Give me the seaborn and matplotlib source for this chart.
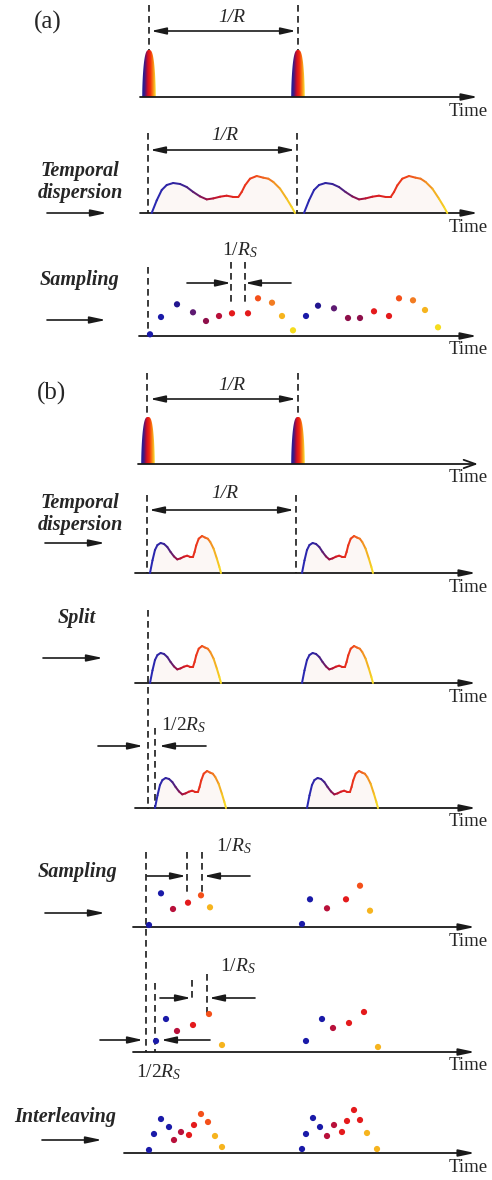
import numpy as np
import pandas as pd
import matplotlib
matplotlib.use("Agg")
import matplotlib.pyplot as plt
import seaborn as sns
from matplotlib.collections import LineCollection
from matplotlib.colors import LinearSegmentedColormap
from matplotlib.patches import Polygon

# ------------------------------------------------------------------ data
# dispersed pulse shape: normalised time within the pulse, amplitude (px)
wave_t = [0, 0.035, 0.07, 0.105, 0.15, 0.198, 0.244, 0.29, 0.337, 0.384, 0.43,
          0.477, 0.523, 0.57, 0.605, 0.628, 0.651, 0.686, 0.733, 0.779, 0.814,
          0.849, 0.896, 0.942, 0.977, 1.0]
wave_a = [0, 12.6, 23, 28, 30, 29, 26, 21, 16.6, 13.6, 14.6, 16.3, 17.3, 16,
          16, 21, 27.6, 34.3, 37, 35.3, 34.3, 31, 24.3, 14.3, 6, 0]

# short optical pulses (time positions) and their height
pulse_times_a = [149, 298]
pulse_times_b = [148, 298]
pulse_amp = 47

# start times of the dispersed pulses and their durations
wave_starts_a2 = [151.7, 304]
wave_width_a = 143.3
wave_starts_b2 = [150, 302]
wave_starts_b3 = [150, 302]
wave_starts_b4 = [155, 307]
wave_width_b = 71

# sampled points: time, amplitude, colour class
samp_a3_t = [150, 161, 177, 193, 206, 219, 232, 248, 258, 272, 282, 293,
             306, 318, 334, 348, 360, 374, 389, 399, 413, 425, 438]
samp_a3_v = [1.7, 19, 31.7, 23.7, 15, 20, 22.7, 22.7, 37.7, 33.3, 20, 5.7,
             20, 30.3, 27.7, 18, 18, 24.7, 20, 37.7, 35.7, 26, 8.7]
samp_a3_c = ["blue", "blue", "navy", "purple", "maroon", "crimson", "red", "red",
             "orangered", "orange", "amber", "yellow",
             "blue", "navy", "purple", "maroon", "maroon", "red", "red",
             "orangered", "orange", "amber", "yellow"]

samp_b5_t = [149, 161, 173, 188, 201, 210, 302, 310, 327, 346, 360, 370]
samp_b5_v = [2, 33.7, 18, 24.3, 31.7, 19.7, 3, 27.7, 18.7, 27.7, 41.3, 16.3]
samp_b5_c = ["blue", "blue", "crimson", "red", "orangered", "amber",
             "blue", "blue", "crimson", "red", "orangered", "amber"]

samp_b6_t = [156, 166, 177, 193, 209, 222, 306, 322, 333, 349, 364, 378]
samp_b6_v = [11, 33, 21, 27, 38, 7, 11, 33, 24, 29, 40, 5]
samp_b6_c = ["blue", "blue", "crimson", "red", "orangered", "amber",
             "blue", "blue", "crimson", "red", "red", "amber"]

samp_b7_t = [149, 154, 161, 169, 174, 181, 189, 194, 201, 208, 215, 222,
             302, 306, 313, 320, 327, 334, 342, 347, 354, 360, 367, 377]
samp_b7_v = [3, 19, 34, 26, 13, 21, 18, 28, 39, 31, 17, 6,
             4, 19, 35, 26, 17, 28, 21, 32, 43, 33, 20, 4]
samp_b7_c = ["blue", "blue", "blue", "blue", "crimson", "crimson", "red", "red",
             "orangered", "orangered", "amber", "amber",
             "blue", "blue", "blue", "blue", "crimson", "crimson", "red", "red",
             "red", "red", "amber", "amber"]

stage_labels = ["Temporal\ndispersion", "Sampling", "Temporal\ndispersion",
                "Split", "Sampling", "Interleaving"]

# ------------------------------------------------------------------ style
sns.set_theme(style="white")
plt.rcParams["font.family"] = ["Liberation Serif", "DejaVu Serif"]
plt.rcParams["mathtext.fontset"] = "custom"
plt.rcParams["mathtext.it"] = "Liberation Serif:italic"
plt.rcParams["mathtext.rm"] = "Liberation Serif"

dot_palette = {"blue": "#1a1aa8", "navy": "#22168f", "purple": "#5e1a72",
               "maroon": "#8e0f4a", "crimson": "#b8103a", "red": "#e41a1c",
               "orangered": "#f4501a", "orange": "#f27c22", "amber": "#f6b41e",
               "yellow": "#f5dc1e"}

wave_cmap = LinearSegmentedColormap.from_list(
    "wave", [(0, "#2828b4"), (0.2, "#33239c"), (0.3, "#5a1f74"),
             (0.38, "#951048"), (0.5, "#d81a22"), (0.7, "#ef3c1a"),
             (0.82, "#f07420"), (0.92, "#f3b022"), (1, "#f6dc24")])
pulse_cmap = LinearSegmentedColormap.from_list(
    "pulse", [(0, "#1c1c96"), (0.18, "#3a1a8a"), (0.3, "#8a1050"),
              (0.42, "#d81020"), (0.6, "#f02a10"), (0.75, "#f87010"),
              (0.88, "#f8b020"), (1, "#f8e438")])

fig = plt.figure(figsize=(4.92, 11.8), dpi=100)
ax = fig.add_axes([0, 0, 1, 1])
ax.axis("off")

LW = 1.2
DASH = (0, (4, 2.6))


def time_axis(y, x0, x1=478, open_head=False):
    style = "-|>,head_length=0.8,head_width=0.17"
    if open_head:
        style = "->,head_length=0.7,head_width=0.25"
    ax.annotate("", xy=(x1, y), xytext=(x0, y),
                arrowprops=dict(arrowstyle=style, lw=1.3, color="k",
                                shrinkA=0, shrinkB=0))
    ax.text(488, y + 14, "Time", ha="right", va="center", fontsize=13.5)


def dashed(x, y0, y1):
    ax.plot([x, x], [y0, y1], color="k", lw=LW, ls=DASH, solid_capstyle="butt")


def arrow(x_from, x_to, y, both=False):
    style = "<|-|>" if both else "-|>"
    ax.annotate("", xy=(x_to, y), xytext=(x_from, y),
                arrowprops=dict(arrowstyle=style + ",head_length=0.75,head_width=0.17",
                                lw=LW, color="k", shrinkA=0, shrinkB=0))


def pulse(c, base, h, hw=6.8):
    u = np.linspace(-1, 1, 121)
    xs = c + u * hw
    ys = base - h * np.clip(1 - np.abs(u) ** 3, 0, 1) ** 0.6
    patch = Polygon(np.column_stack([xs, ys]), closed=True, facecolor="none",
                    edgecolor="none")
    ax.add_patch(patch)
    grad = np.linspace(0, 1, 64).reshape(1, -1)
    im = ax.imshow(grad, cmap=pulse_cmap, extent=(c - hw, c + hw, base, base - h),
                   aspect="auto", interpolation="bilinear", zorder=2)
    im.set_clip_path(patch)


def wave(start, width, base):
    t = np.asarray(wave_t)
    x = start + t * width
    y = base - np.asarray(wave_a)
    ax.fill_between(x, base, y, color="#fcf7f5", lw=0, zorder=1)
    pts = np.column_stack([x, y])
    segs = np.stack([pts[:-1], pts[1:]], axis=1)
    tm = (t[:-1] + t[1:]) / 2
    lc = LineCollection(segs, colors=wave_cmap(tm), linewidths=1.45,
                        capstyle="round", zorder=3)
    ax.add_collection(lc)


def samples(ts, vs, cs, base):
    df = pd.DataFrame({"t": ts, "y": base - np.asarray(vs, float), "c": cs})
    sns.scatterplot(data=df, x="t", y="y", hue="c", palette=dot_palette,
                    s=20, edgecolor="none", legend=False, ax=ax, zorder=4)


def stage(text, x, y, ay, ax0, ax1):
    ax.text(x, y, text, ha="center", va="center", fontsize=14.5,
            fontweight="bold", fontstyle="italic", linespacing=1.15)
    ax.annotate("", xy=(ax1, ay), xytext=(ax0, ay),
                arrowprops=dict(arrowstyle="-|>,head_length=0.8,head_width=0.17",
                                lw=LW, color="k", shrinkA=0, shrinkB=0))


def label(x, y, s, ha="center"):
    ax.text(x, y, s, ha=ha, va="center", fontsize=14, fontstyle="italic")


RS = r"$\mathit{1/R_S}$"
R2S = r"$\mathit{1/2R_S}$"

# ------------------------------------------------------------------ panel (a)
ax.text(48, 22, "(a)", ha="center", va="center", fontsize=18)

# row a1 : pulse train
b = 97
time_axis(b, 140)
for tp in pulse_times_a:
    pulse(tp, b, pulse_amp)
dashed(149, 5, 50)
dashed(298, 5, 50)
arrow(151, 296, 31, both=True)
label(232, 17, "1/R")

# row a2 : temporal dispersion
b = 213
time_axis(b, 140)
for s0 in wave_starts_a2:
    wave(s0, wave_width_a, b)
dashed(148, 133, b)
dashed(297, 133, b)
arrow(150, 295, 150, both=True)
label(225, 135, "1/R")
stage(stage_labels[0], 80, 182, 213, 47, 107)

# row a3 : sampling
b = 336
time_axis(b, 139, 477)
samples(samp_a3_t, samp_a3_v, samp_a3_c, b)
dashed(148, 267, b)
dashed(231, 262, 303)
dashed(245, 262, 303)
arrow(187, 231, 283)
arrow(291, 245, 283)
label(240, 250, RS)
stage(stage_labels[1], 80, 280, 320, 47, 106)

# ------------------------------------------------------------------ panel (b)
ax.text(51, 393, "(b)", ha="center", va="center", fontsize=18)

# row b1 : pulse train
b = 464
time_axis(b, 138, open_head=True)
for tp in pulse_times_b:
    pulse(tp, b, pulse_amp)
dashed(147, 373, 417)
dashed(298, 373, 417)
arrow(150, 296, 399, both=True)
label(232, 386, "1/R")

# row b2 : temporal dispersion
b = 573
time_axis(b, 135, 476)
for s0 in wave_starts_b2:
    wave(s0, wave_width_b, b)
dashed(147, 495, b)
dashed(296, 495, b)
arrow(149, 294, 510, both=True)
label(225, 494, "1/R")
stage(stage_labels[2], 80, 514, 543, 45, 105)

# row b3 : split
b = 683
time_axis(b, 135, 476)
for s0 in wave_starts_b3:
    wave(s0, wave_width_b, b)
dashed(148, 610, 809)
stage(stage_labels[3], 77, 618, 658, 43, 103)

# row b4 : delayed copy
b = 808
time_axis(b, 135, 476)
for s0 in wave_starts_b4:
    wave(s0, wave_width_b, b)
dashed(155, 728, 809)
arrow(98, 143, 746)
arrow(206, 159, 746)
label(161, 725, R2S, ha="left")

# row b5 : sampling of branch 1
b = 927
time_axis(b, 133, 475)
samples(samp_b5_t, samp_b5_v, samp_b5_c, b)
dashed(146, 852, 1052)
dashed(187, 852, 892)
dashed(202, 852, 892)
arrow(147, 186, 876)
arrow(250, 204, 876)
label(234, 846, RS)
stage(stage_labels[4], 78, 872, 913, 45, 105)

# row b6 : sampling of branch 2
b = 1052
time_axis(b, 133, 475)
samples(samp_b6_t, samp_b6_v, samp_b6_c, b)
dashed(155, 983, b)
dashed(192, 980, 1002)
dashed(207, 974, 1013)
arrow(160, 191, 998)
arrow(255, 209, 998)
label(238, 966, RS)
arrow(100, 143, 1040)
arrow(210, 161, 1040)
label(159, 1072, R2S)

# row b7 : interleaving
b = 1153
time_axis(b, 124, 475)
samples(samp_b7_t, samp_b7_v, samp_b7_c, b)
stage(stage_labels[5], 65, 1117, 1140, 42, 102)

ax.set_xlim(0, 492)
ax.set_ylim(1180, 0)
ax.axis("off")
fig.savefig("out.png", dpi=100, facecolor="white")
